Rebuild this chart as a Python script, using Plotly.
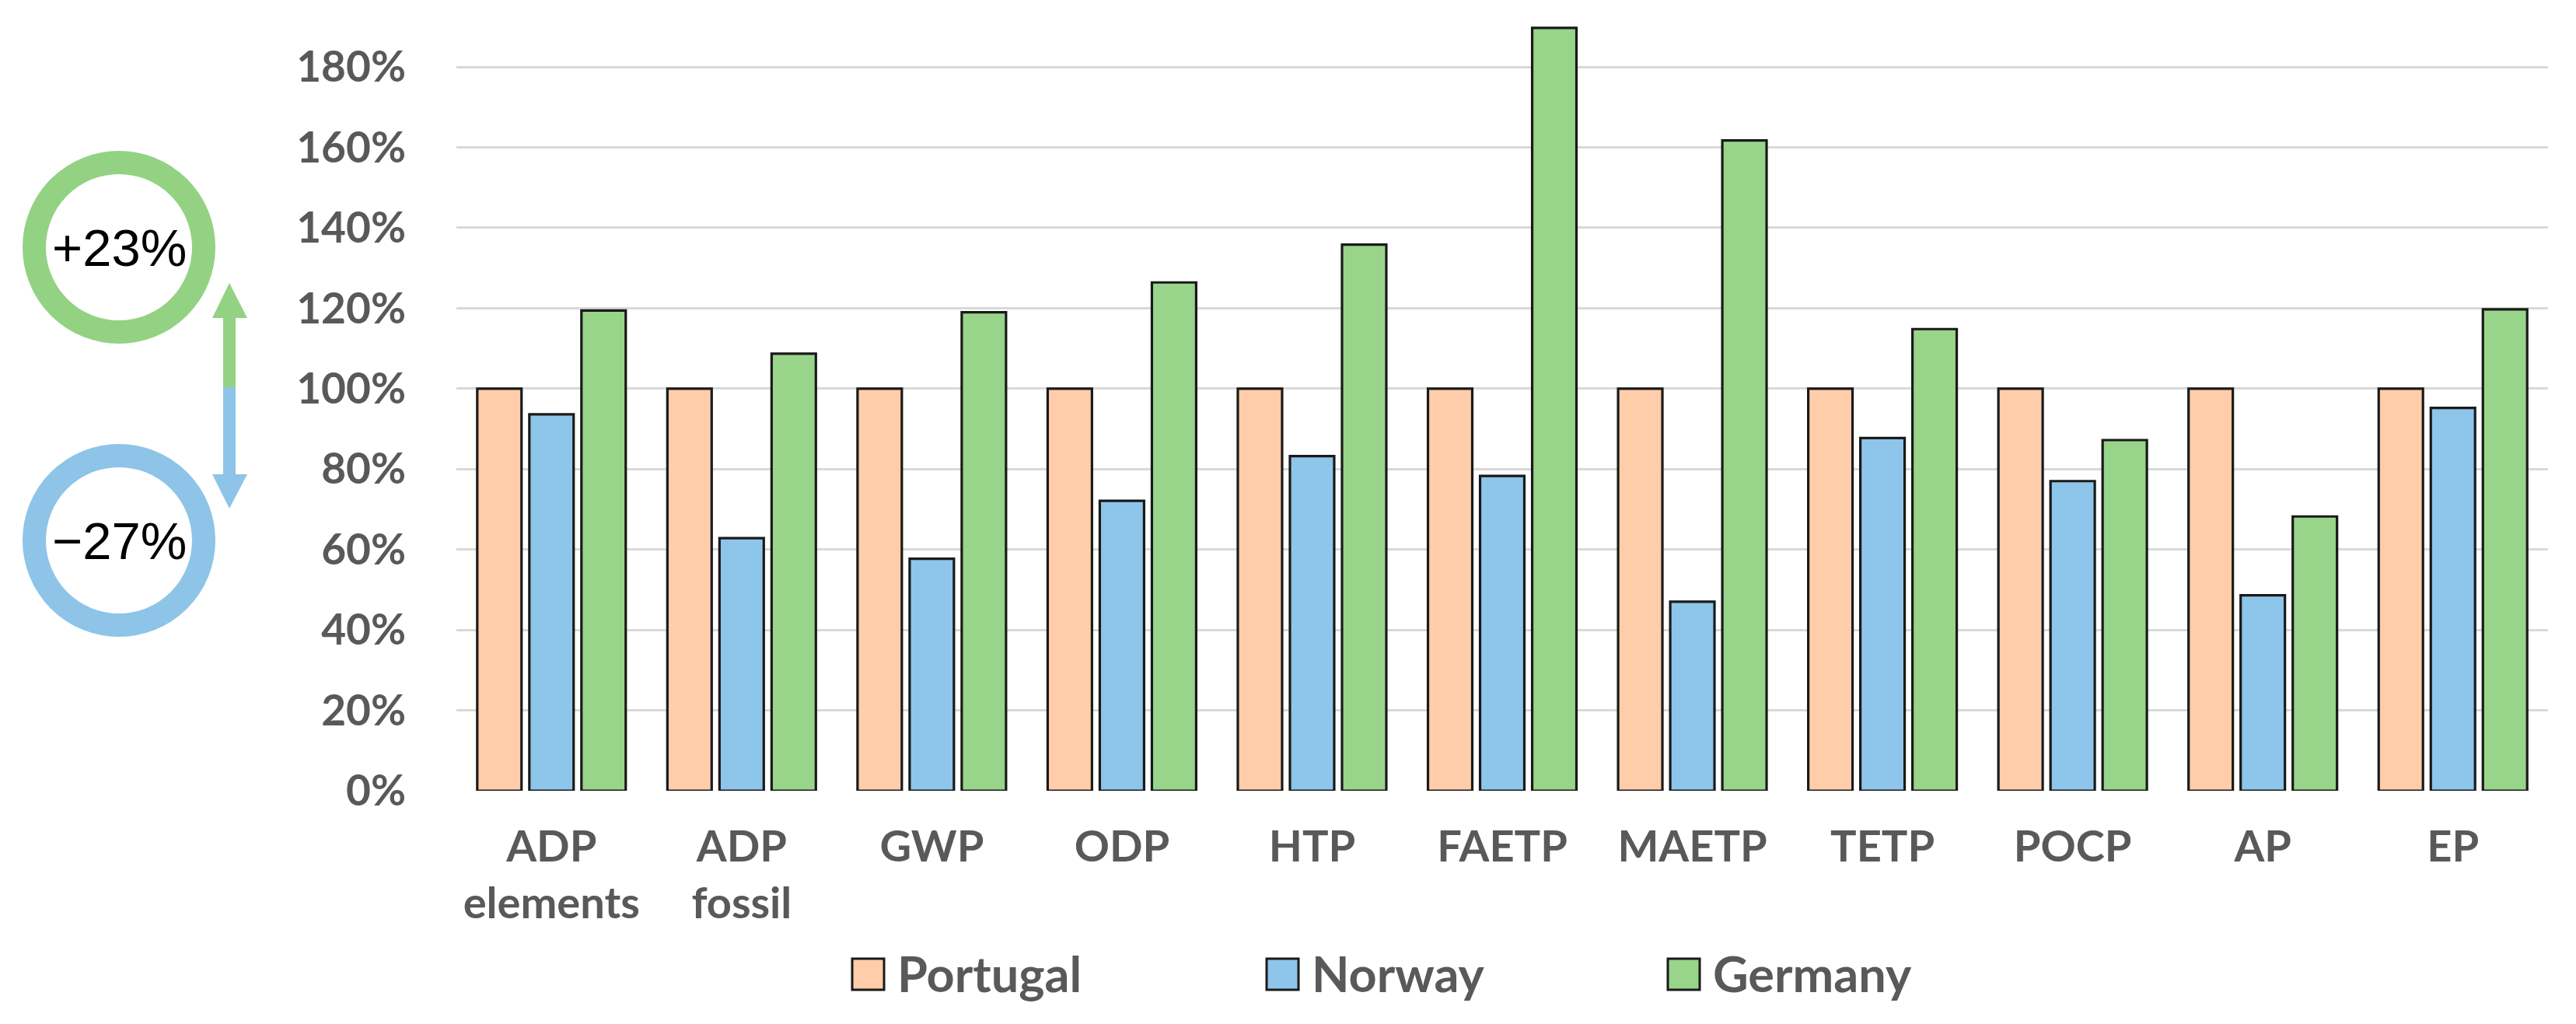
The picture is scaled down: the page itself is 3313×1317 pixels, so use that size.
import plotly.graph_objects as go

categories = ["ADP<br>elements", "ADP<br>fossil", "GWP", "ODP", "HTP", "FAETP",
              "MAETP", "TETP", "POCP", "AP", "EP"]
series_names = ["Portugal", "Norway", "Germany"]
portugal = [100, 100, 100, 100, 100, 100, 100, 100, 100, 100, 100]
norway = [93.6, 62.8, 57.7, 72.1, 83.2, 78.3, 47.0, 87.7, 77.0, 48.6, 95.2]
germany = [119.4, 108.7, 119.0, 126.4, 135.8, 189.7, 161.7, 114.8, 87.2, 68.2, 119.7]
y_ticks = [0, 20, 40, 60, 80, 100, 120, 140, 160, 180]
y_tick_labels = ["0%", "20%", "40%", "60%", "80%", "100%", "120%", "140%", "160%", "180%"]
badge_up = "+23%"
badge_down = "−27%"

colors = ["#FFCDAA", "#8EC5EA", "#98D58A"]
ring_green = "#93D283"
ring_blue = "#8EC4E8"
text_gray = "#595959"

# page body adds an 8px offset; figure is sized to fill the rest of the window
OFF = 8
W, H = 3313 - OFF, 1317 - OFF
L, R, T, B = 587 - OFF, 36, 0, 300
PW, PH = W - L - R, H - T - B
y_max = 180 + (86 - OFF) / 5.17


def px(x):  # x given in window pixels
    return (x - OFF - L) / PW


def py(y):  # y given in window pixels
    return (H - B - (y - OFF)) / PH


fig = go.Figure()
for name, vals, col in zip(series_names, [portugal, norway, germany], colors):
    fig.add_trace(go.Bar(
        x=categories, y=vals, name=name, showlegend=False,
        marker=dict(color=col, line=dict(color="#1a1a1a", width=3.2)),
    ))

shapes = []
annotations = []

# custom legend (large square swatches)
leg_x = [1096, 1629, 2145]
for name, col, x0 in zip(series_names, colors, leg_x):
    shapes.append(dict(type="rect", xref="paper", yref="paper",
                       x0=px(x0), x1=px(x0 + 41), y0=py(1273), y1=py(1233),
                       fillcolor=col, line=dict(color="#1a1a1a", width=3)))
    annotations.append(dict(xref="paper", yref="paper", x=px(x0 + 56), y=py(1251),
                            text=name, showarrow=False, xanchor="left", yanchor="middle",
                            font=dict(family="Lato", size=63, color=text_gray, weight="bold")))

# rings with badges
ring_w = 30
for cy, col, txt in [(318, ring_green, badge_up), (695, ring_blue, badge_down)]:
    r = 124 - ring_w / 2
    shapes.append(dict(type="circle", xref="paper", yref="paper",
                       x0=px(153 - r), x1=px(153 + r), y0=py(cy + r), y1=py(cy - r),
                       line=dict(color=col, width=ring_w), fillcolor="rgba(0,0,0,0)"))
    annotations.append(dict(xref="paper", yref="paper", x=px(153), y=py(cy),
                            text=txt, showarrow=False, xanchor="center", yanchor="middle",
                            font=dict(family="Liberation Sans", size=67, color="#000000")))

# double arrow
shapes.append(dict(type="rect", xref="paper", yref="paper", x0=px(287), x1=px(303),
                   y0=py(498), y1=py(405), fillcolor=ring_green, line=dict(width=0)))
shapes.append(dict(type="rect", xref="paper", yref="paper", x0=px(287), x1=px(303),
                   y0=py(614), y1=py(498), fillcolor=ring_blue, line=dict(width=0)))


def tri(pts):
    return "M " + " L ".join(f"{px(a)},{py(b)}" for a, b in pts) + " Z"


shapes.append(dict(type="path", xref="paper", yref="paper",
                   path=tri([(295, 364), (318, 409), (273, 409)]),
                   fillcolor=ring_green, line=dict(width=0)))
shapes.append(dict(type="path", xref="paper", yref="paper",
                   path=tri([(295, 654), (318, 610), (273, 610)]),
                   fillcolor=ring_blue, line=dict(width=0)))

fig.update_layout(
    width=W, height=H,
    margin=dict(l=L, r=R, t=T, b=B, pad=0),
    paper_bgcolor="white", plot_bgcolor="white",
    barmode="group", bargap=0.178, bargroupgap=0.15,
    shapes=shapes, annotations=annotations,
    showlegend=False,
)
fig.update_yaxes(
    range=[0, y_max], tickmode="array", tickvals=y_ticks, ticktext=y_tick_labels,
    showgrid=True, gridcolor="#D9D9D9", gridwidth=3,
    zeroline=False, showline=False, ticks="",
    ticklabelstandoff=64,
    tickfont=dict(family="Lato", size=55, color=text_gray, weight="bold"),
)
fig.update_xaxes(
    showgrid=False, zeroline=False, showline=False, ticks="",
    ticklabelstandoff=34,
    tickfont=dict(family="Lato", size=56, color=text_gray, weight="bold"),
)

fig.write_html("out.html")
